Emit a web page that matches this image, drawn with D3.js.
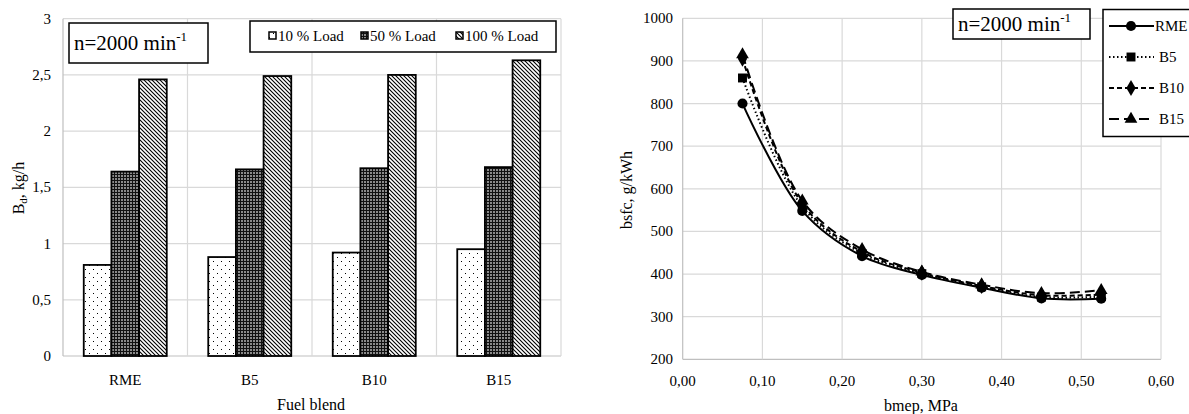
<!DOCTYPE html>
<html>
<head>
<meta charset="utf-8">
<script src="https://cdn.jsdelivr.net/npm/d3@7"></script>
<style>
  body { margin: 0; background: #fff; }
  svg { font-family: "Liberation Serif", "Times New Roman", serif; }
</style>
</head>
<body>
<svg id="chart" width="1189" height="414"></svg>
<script>
// left chart data
const blends = ["RME", "B5", "B10", "B15"];
const loads = ["10 % Load", "50 % Load", "100 % Load"];
const load10 = [0.81, 0.88, 0.92, 0.95];
const load50 = [1.64, 1.66, 1.67, 1.68];
const load100 = [2.46, 2.49, 2.50, 2.63];
const barTicks = [0, 0.5, 1, 1.5, 2, 2.5, 3];

// right chart data
const bmep = [0.075, 0.15, 0.225, 0.30, 0.375, 0.45, 0.525];
const fuels = ["RME", "B5", "B10", "B15"];
const bsfcRME = [800, 548, 442, 398, 368, 343, 342];
const bsfcB5 = [860, 558, 448, 401, 370, 346, 347];
const bsfcB10 = [905, 565, 452, 403, 372, 350, 352];
const bsfcB15 = [915, 572, 458, 405, 375, 355, 362];
const bmepTicks = [0, 0.1, 0.2, 0.3, 0.4, 0.5, 0.6];
const bsfcTicks = [200, 300, 400, 500, 600, 700, 800, 900, 1000];

const svg = d3.select("#chart");
const comma = v => String(v).replace(".", ",");
const grid = "#d9d9d9";
const tickFont = 15, titleFont = 16;

// patterns
const defs = svg.append("defs");
const pDot = defs.append("pattern").attr("id", "pDot").attr("patternUnits", "userSpaceOnUse")
  .attr("width", 8).attr("height", 8);
pDot.append("rect").attr("width", 8).attr("height", 8).attr("fill", "#fff");
pDot.append("rect").attr("x", 1).attr("y", 1).attr("width", 1).attr("height", 1).attr("fill", "#000");
pDot.append("rect").attr("x", 5).attr("y", 5).attr("width", 1).attr("height", 1).attr("fill", "#000");

const pGrid = defs.append("pattern").attr("id", "pGrid").attr("patternUnits", "userSpaceOnUse")
  .attr("width", 3).attr("height", 3);
pGrid.append("rect").attr("width", 3).attr("height", 3).attr("fill", "#8a8a8a");
pGrid.append("rect").attr("width", 3).attr("height", 1).attr("fill", "#111");
pGrid.append("rect").attr("width", 1).attr("height", 3).attr("fill", "#111");

const pDiag = defs.append("pattern").attr("id", "pDiag").attr("patternUnits", "userSpaceOnUse")
  .attr("width", 4).attr("height", 4);
pDiag.append("rect").attr("width", 4).attr("height", 4).attr("fill", "#fff");
pDiag.append("path").attr("d", "M-1,-1 L5,5 M-1,3 L1,5 M3,-1 L5,1").attr("stroke", "#000").attr("stroke-width", 1.1);

const fills = ["url(#pDot)", "url(#pGrid)", "url(#pDiag)"];

// ---------- left chart ----------
const L = { left: 63, right: 561, top: 18.7, bottom: 356 };
const x0 = d3.scaleBand().domain(blends).range([L.left, L.right]).paddingInner(0).paddingOuter(0);
const x1 = d3.scaleBand().domain(loads).range([0, x0.bandwidth()]).paddingInner(0).paddingOuter(0.75);
const yL = d3.scaleLinear().domain([0, 3]).range([L.bottom, L.top]);

const gl = svg.append("g");
gl.selectAll("line.h").data(barTicks).join("line")
  .attr("x1", L.left).attr("x2", L.right)
  .attr("y1", d => yL(d)).attr("y2", d => yL(d))
  .attr("stroke", d => d === 0 ? "#bfbfbf" : grid).attr("stroke-width", 1.2);
const vEdges = blends.map(b => x0(b)).concat([L.right]);
gl.selectAll("line.v").data(vEdges).join("line")
  .attr("x1", d => d).attr("x2", d => d)
  .attr("y1", L.top).attr("y2", L.bottom)
  .attr("stroke", (d, i) => i === 0 ? "#bfbfbf" : grid).attr("stroke-width", 1.2);

gl.selectAll("text.yt").data(barTicks).join("text")
  .attr("x", 51).attr("y", d => yL(d) + 5)
  .attr("text-anchor", "end").attr("font-size", tickFont).text(d => comma(d));

const series = [load10, load50, load100];
blends.forEach((b, i) => {
  loads.forEach((ld, j) => {
    const v = series[j][i];
    gl.append("rect")
      .attr("x", x0(b) + x1(ld))
      .attr("y", yL(v))
      .attr("width", x1.bandwidth())
      .attr("height", yL(0) - yL(v))
      .attr("fill", fills[j])
      .attr("stroke", "#000").attr("stroke-width", 1.8);
  });
  gl.append("text").attr("x", x0(b) + x0.bandwidth() / 2).attr("y", 385)
    .attr("text-anchor", "middle").attr("font-size", tickFont).text(b);
});

gl.append("text").attr("x", 311).attr("y", 410).attr("text-anchor", "middle")
  .attr("font-size", titleFont).text("Fuel blend");
const ylab = gl.append("text").attr("transform", "translate(24,188) rotate(-90)")
  .attr("text-anchor", "middle").attr("font-size", titleFont);
ylab.append("tspan").text("B");
ylab.append("tspan").attr("font-size", 11).attr("dy", 3).text("d");
ylab.append("tspan").attr("dy", -3).text(", kg/h");

// inset label
function inset(g, x, y, w, h) {
  g.append("rect").attr("x", x).attr("y", y).attr("width", w).attr("height", h)
    .attr("fill", "#fff").attr("stroke", "#000").attr("stroke-width", 1.5);
  const t = g.append("text").attr("x", x + 5).attr("y", y + h / 2 + 7).attr("font-size", 21);
  t.append("tspan").text("n=2000  min");
  t.append("tspan").attr("font-size", 13).attr("dy", -9).text("-1");
}
inset(gl, 69, 23, 139, 40);

// legend
gl.append("rect").attr("x", 250).attr("y", 21).attr("width", 306).attr("height", 31)
  .attr("fill", "#fff").attr("stroke", "#000").attr("stroke-width", 1.5);
const legX = [278, 370, 465];
loads.forEach((ld, j) => {
  gl.append("rect").attr("x", legX[j] - 9).attr("y", 32).attr("width", 7).attr("height", 7)
    .attr("fill", fills[j]).attr("stroke", "#000").attr("stroke-width", 1.5);
  gl.append("text").attr("x", legX[j]).attr("y", 41).attr("font-size", 15).text(ld);
});

// ---------- right chart ----------
const R = { left: 682.7, right: 1161, top: 18.3, bottom: 359.3 };
const xR = d3.scaleLinear().domain([0, 0.6]).range([R.left, R.right]);
const yR = d3.scaleLinear().domain([200, 1000]).range([R.bottom, R.top]);

const gr = svg.append("g");
gr.selectAll("line.h").data(bsfcTicks).join("line")
  .attr("x1", R.left).attr("x2", R.right)
  .attr("y1", d => yR(d)).attr("y2", d => yR(d))
  .attr("stroke", d => d === 200 ? "#bfbfbf" : grid).attr("stroke-width", 1.2);
gr.selectAll("line.v").data(bmepTicks).join("line")
  .attr("x1", d => xR(d)).attr("x2", d => xR(d))
  .attr("y1", R.top).attr("y2", R.bottom)
  .attr("stroke", (d, i) => i === 0 ? "#bfbfbf" : grid).attr("stroke-width", 1.2);

gr.selectAll("text.yt").data(bsfcTicks).join("text")
  .attr("x", 673).attr("y", d => yR(d) + 5)
  .attr("text-anchor", "end").attr("font-size", tickFont).text(d => d);
gr.selectAll("text.xt").data(bmepTicks).join("text")
  .attr("x", d => xR(d)).attr("y", 386)
  .attr("text-anchor", "middle").attr("font-size", tickFont).text(d => comma(d.toFixed(2)));

gr.append("text").attr("x", 921).attr("y", 411).attr("text-anchor", "middle")
  .attr("font-size", titleFont).text("bmep, MPa");
gr.append("text").attr("transform", "translate(632,190) rotate(-90)")
  .attr("text-anchor", "middle").attr("font-size", titleFont).text("bsfc, g/kWh");

const lineData = [bsfcRME, bsfcB5, bsfcB10, bsfcB15];
const dashes = [null, "1.5,2.5", "5,3", "10,5"];
const symbols = [d3.symbolCircle, d3.symbolSquare, d3.symbolDiamond, d3.symbolTriangle];
const symSize = [80, 80, 75, 70];
const line = d3.line().x((d, i) => xR(bmep[i])).y(d => yR(d)).curve(d3.curveCatmullRom.alpha(0.5));

lineData.forEach((arr, k) => {
  gr.append("path").attr("d", line(arr)).attr("fill", "none")
    .attr("stroke", "#000").attr("stroke-width", 2)
    .attr("stroke-dasharray", dashes[k]);
  gr.selectAll(null).data(arr).join("path")
    .attr("transform", (d, i) => `translate(${xR(bmep[i])},${yR(d)})`)
    .attr("d", d3.symbol().type(symbols[k]).size(symSize[k]))
    .attr("fill", "#000");
});

// inset & legend
inset(gr, 953, 9, 137, 30);
gr.append("rect").attr("x", 1103).attr("y", 9.5).attr("width", 100).attr("height", 127)
  .attr("fill", "#fff").attr("stroke", "#000").attr("stroke-width", 1.5);
fuels.forEach((f, k) => {
  const ly = 26 + k * 31;
  gr.append("line").attr("x1", 1109).attr("x2", 1154).attr("y1", ly).attr("y2", ly)
    .attr("stroke", "#000").attr("stroke-width", 2).attr("stroke-dasharray", dashes[k]);
  gr.append("path").attr("transform", `translate(1131,${ly})`)
    .attr("d", d3.symbol().type(symbols[k]).size(symSize[k])).attr("fill", "#000");
  gr.append("text").attr("x", k === 0 ? 1155 : 1159).attr("y", ly + 5)
    .attr("font-size", 15).text(f);
});
</script>
</body>
</html>
